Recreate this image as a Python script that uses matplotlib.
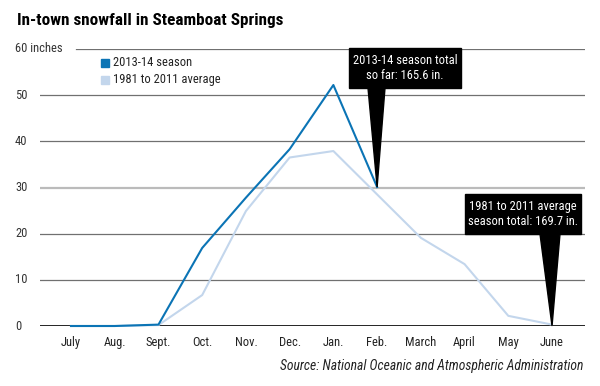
import matplotlib
matplotlib.use("Agg")
import matplotlib.pyplot as plt
from matplotlib.patches import Polygon, Rectangle

months = ["July", "Aug.", "Sept.", "Oct.", "Nov.", "Dec.", "Jan.", "Feb.",
          "March", "April", "May", "June"]
season_2013 = [0, 0, 0.3, 16.9, 27.8, 38.3, 52.2, 30.1]
average = [0, 0, 0.2, 6.7, 24.9, 36.5, 37.9, 28.5, 19.1, 13.4, 2.2, 0.3]
yticks = [0, 10, 20, 30, 40, 50, 60]
ytick_labels = ["0", "10", "20", "30", "40", "50", "60 inches"]

FONT = ["Roboto Condensed", "Archivo Narrow", "DejaVu Sans"]
plt.rcParams['font.family'] = FONT

W, H = 600, 386
fig = plt.figure(figsize=(6, 3.86), dpi=100)
ax = fig.add_axes([40 / W, 1 - 326 / H, 545 / W, (326 - 49) / H])
x0 = (40 - 71) / 43.73
x1 = (585 - 71) / 43.73
ax.set_xlim(x0, x1)
ax.set_ylim(0, 60)
for s in ax.spines.values():
    s.set_visible(False)
ax.set_yticks([])
ax.set_xticks(range(len(months)))
ax.set_xticklabels(months, fontsize=9, color="#222222")
ax.tick_params(axis="x", length=0, pad=7)

ytr = ax.get_yaxis_transform()
for v, lab in zip(yticks, ytick_labels):
    if v == 0:
        ax.axhline(v, color="black", lw=1.2, zorder=1)
    elif v == 60:
        ax.axhline(v, xmin=(76 - 40) / 545, color="#707070", lw=0.9, zorder=1)
    elif v == 30:
        ax.axhline(v, color="#bbbbbb", lw=1.6, zorder=1)
    else:
        ax.axhline(v, color="#707070", lw=0.9, zorder=1)
    ax.text((15 - 40) / 545, v, lab, transform=ytr, ha="left", va="center",
            fontsize=9, color="#333333")

ax.plot(range(len(average)), average, color="#c3d6ec", lw=1.5, zorder=2,
        clip_on=False)
ax.plot(range(len(season_2013)), season_2013, color="#0b74b5", lw=1.5, zorder=3,
        clip_on=False)

# legend
atr = ax.transAxes
def ax_px(px, py):
    return ((px - 40) / 545, (326 - py) / 277)
for py, col, lab in [(63, "#0b74b5", "2013-14 season"),
                     (80, "#c3d6ec", "1981 to 2011 average")]:
    xa, ya = ax_px(101, py + 4)
    wa, ha_ = 8 / 545, 8 / 277
    ax.add_patch(Rectangle((xa, ya), wa, ha_, transform=atr, color=col,
                           clip_on=False))
    tx, ty = ax_px(113, py)
    ax.text(tx, ty, lab, transform=atr, ha="left", va="center", fontsize=9,
            color="#222222")

def dx(px):
    return (px - 71) / 43.73
def dy(py):
    return (326 - py) / 4.617

def callout(box, base, tip, text):
    l, r, t, b = box
    ax.add_patch(Rectangle((dx(l), dy(b)), dx(r) - dx(l), dy(t) - dy(b),
                           color="black", zorder=5, clip_on=False))
    ax.add_patch(Polygon([(dx(base[0]), dy(b)), (dx(base[1]), dy(b)), tip],
                         closed=True, color="black", zorder=5, clip_on=False))
    ax.text((dx(l) + dx(r)) / 2, (dy(t) + dy(b)) / 2, text, ha="center",
            va="center", color="white", fontsize=9, zorder=6,
            linespacing=1.25)

callout((349, 461, 48, 88), (368, 385), (7, season_2013[7]),
        "2013-14 season total\nso far: 165.6 in.")
callout((465, 581, 194, 234), (540, 560), (11, average[11] * 0),
        "1981 to 2011 average\nseason total: 169.7 in.")

fig.text(17 / W, 1 - 20 / H, "In-town snowfall in Steamboat Springs",
         fontsize=12.3, fontweight="bold", ha="left", va="center",
         color="black")
fig.text(583 / W, 1 - 366 / H,
         "Source: National Oceanic and Atmospheric Administration",
         fontsize=9.8, style="italic", ha="right", va="center", color="#222222")

fig.savefig("out.png", dpi=100)
